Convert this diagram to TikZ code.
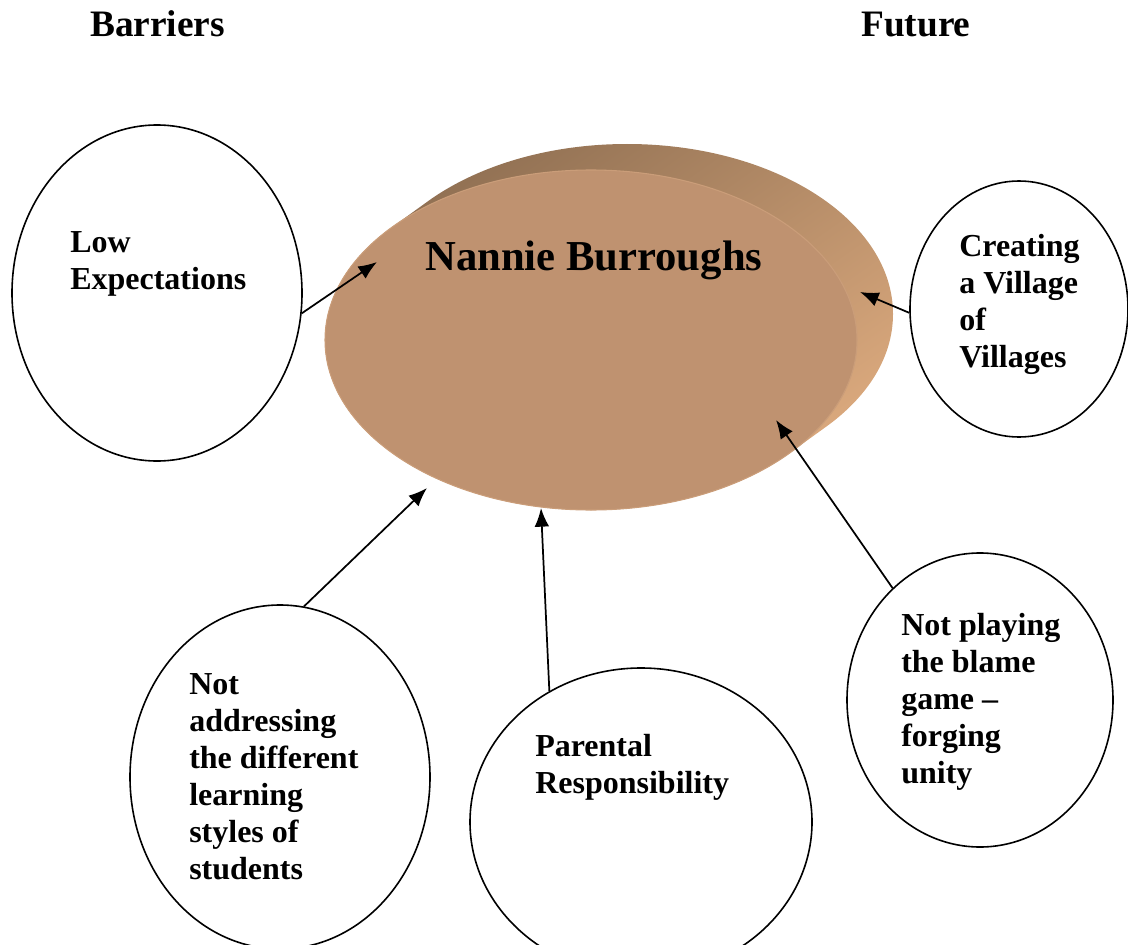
\documentclass[tikz,border=0pt]{standalone}
\usepackage{fontspec}
\setmainfont{Liberation Serif}
\usetikzlibrary{shapes.geometric,arrows.meta}
\definecolor{discfront}{HTML}{BF9270}
\definecolor{discdark}{HTML}{8F6F52}
\definecolor{disclight}{HTML}{DCAA7E}
\definecolor{discrim}{HTML}{CA9D79}
\begin{document}
\begin{tikzpicture}[x=0.75pt,y=-0.75pt,
  bubble/.style={draw=black, line width=1.2pt, ellipse, inner sep=0pt},
  txt/.style={font=\bfseries\fontsize{24}{27.75}\selectfont, align=left, anchor=base west, inner sep=0pt},
  head/.style={font=\bfseries\fontsize{28}{32}\selectfont, anchor=base west, inner sep=0pt},
  ttl/.style={font=\bfseries\fontsize{32}{36}\selectfont, anchor=base west, inner sep=0pt},
  conn/.style={line width=1.3pt, -{Latex[length=14pt,width=11pt]}}]
\useasboundingbox (0,0) rectangle (1128,945);
\clip (0,0) rectangle (1128,945);
% headings
\node[head] (barriers) at (90,37) {Barriers};
\node[head] (future) at (861,37) {Future};
% central disc
\shade[top color=discdark, bottom color=disclight, shading angle=35]
  \foreach \i in {0,...,24} {(627-1.5*\i, 314+1.0833*\i) ellipse [x radius=266, y radius=170]};
\node[ellipse, fill=discfront, draw=discrim, line width=0.8pt, minimum width=399pt, minimum height=255pt, inner sep=0pt] (nb) at (591,340) {};
\node[ttl] (nbt) at (425,270) {Nannie Burroughs};
% bubbles
\node[bubble, minimum width=217.5pt, minimum height=252pt] (low) at (157,293) {};
\node[bubble, minimum width=163.5pt, minimum height=192pt] (village) at (1019,309) {};
\node[bubble, minimum width=225pt, minimum height=258pt] (styles) at (280,777) {};
\node[bubble, minimum width=256.5pt, minimum height=231pt] (parent) at (641,822) {};
\node[bubble, minimum width=199.5pt, minimum height=220.5pt] (blame) at (980,700) {};
% texts (base anchor = baseline of the last line)
\node[txt] (lowt) at (70,289) {Low\\Expectations};
\node[txt] (villaget) at (959,367) {Creating\\a Village\\of\\Villages};
\node[txt] (stylest) at (189,879) {Not\\addressing\\the different\\learning\\styles of\\students};
\node[txt] (parentt) at (535,793) {Parental\\Responsibility};
\node[txt] (blamet) at (901,783) {Not playing\\the blame\\game --\\forging\\unity};
% connectors
\coordinate (tlow) at (377,262);
\coordinate (tvillage) at (860,292);
\coordinate (tstyles) at (427,488);
\coordinate (tparent) at (541,508);
\coordinate (tblame) at (776,420);
\draw[conn] (low.-8) -- (tlow);
\draw[conn] (village.182) -- (tvillage);
\draw[conn] (styles.82.7) -- (tstyles);
\draw[conn] (parent.125.3) -- (tparent);
\draw[conn] (blame.128.5) -- (tblame);
\end{tikzpicture}
\end{document}
